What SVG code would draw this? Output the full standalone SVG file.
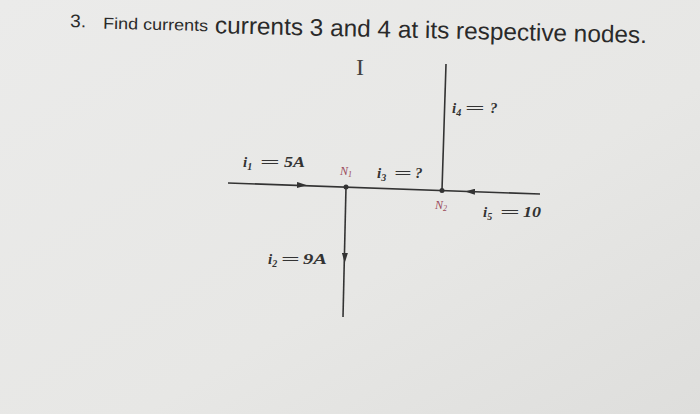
<svg xmlns="http://www.w3.org/2000/svg" width="700" height="414" viewBox="0 0 700 414">
<defs>
<linearGradient id="bg" x1="0" y1="0" x2="1" y2="1">
<stop offset="0" stop-color="#ebebea"/>
<stop offset="0.6" stop-color="#e7e7e5"/>
<stop offset="1" stop-color="#dededc"/>
</linearGradient>
<marker id="arr" viewBox="0 0 10 6" refX="5" refY="3" markerWidth="10" markerHeight="6" markerUnits="userSpaceOnUse" orient="auto">
<path d="M0,0 L10,3 L0,6 Z" fill="#333"/>
</marker>
</defs>
<style>
.title{font-family:"Liberation Sans",Arial,sans-serif;fill:#2a2a2a}
.lbl{font-family:"Liberation Serif","Times New Roman",serif;font-style:italic;font-weight:bold;font-size:15px;fill:#333}
.eq{font-family:"Liberation Serif","Times New Roman",serif;font-weight:bold;font-size:15px;fill:#333}
.sub{font-size:10px}
.node{font-family:"Liberation Serif","Times New Roman",serif;font-style:italic;font-size:12px;fill:#9a4a5a}
.wire{stroke:#333;stroke-width:1.6;fill:none}
</style>
<rect width="700" height="414" fill="url(#bg)"/>
<g transform="rotate(1.3 70 26)">
<text class="title" x="70" y="27" font-size="18" textLength="16" lengthAdjust="spacingAndGlyphs">3.</text>
<text class="title" x="103" y="28" font-size="16" textLength="105" lengthAdjust="spacingAndGlyphs">Find currents</text>
<text class="title" x="215" y="30" font-size="24" textLength="432" lengthAdjust="spacingAndGlyphs">currents 3 and 4 at its respective nodes.</text>
</g>
<text x="360" y="75" font-family="Liberation Serif,serif" font-size="24" fill="#444" text-anchor="middle">I</text>
<g id="connectors">
<path class="wire" d="M228,183 L540,194"/>
<path class="wire" d="M346,187 L343,317"/>
<path class="wire" d="M446,64 L442,190"/>
<path d="M292,184.8 L302,185.1" stroke="none" marker-end="url(#arr)"/>
<path d="M345,248 L344.8,258" stroke="none" marker-end="url(#arr)"/>
<path d="M480,192 L470,191.6" stroke="none" marker-end="url(#arr)"/>
</g>
<g id="N1">
<circle cx="346" cy="187" r="2.5" fill="#333"/>
<text class="node" x="340" y="175">N<tspan font-size="8" dy="2">1</tspan></text>
</g>
<g id="N2">
<circle cx="442" cy="190.5" r="2.5" fill="#333"/>
<text class="node" x="435" y="209">N<tspan font-size="8" dy="2">2</tspan></text>
</g>
<g id="labels">
<g id="lbl-i1">
<text class="lbl" x="243" y="167">i<tspan class="sub" dy="3">1</tspan></text>
<text class="eq" x="260" y="167" textLength="20" lengthAdjust="spacingAndGlyphs">=</text>
<text class="lbl" x="284" y="167" textLength="21" lengthAdjust="spacingAndGlyphs">5A</text>
</g>
<g id="lbl-i3">
<text class="lbl" x="377" y="178">i<tspan class="sub" dy="3">3</tspan></text>
<text class="eq" x="394" y="178" textLength="18" lengthAdjust="spacingAndGlyphs">=</text>
<text class="lbl" x="415" y="178">?</text>
</g>
<g id="lbl-i4">
<text class="lbl" x="452" y="113">i<tspan class="sub" dy="3">4</tspan></text>
<text class="eq" x="465" y="113" textLength="20" lengthAdjust="spacingAndGlyphs">=</text>
<text class="lbl" x="490" y="113">?</text>
</g>
<g id="lbl-i5">
<text class="lbl" x="483" y="217">i<tspan class="sub" dy="3">5</tspan></text>
<text class="eq" x="500" y="217" textLength="20" lengthAdjust="spacingAndGlyphs">=</text>
<text class="lbl" x="523" y="217" textLength="18" lengthAdjust="spacingAndGlyphs">10</text>
</g>
<g id="lbl-i2">
<text class="lbl" x="268" y="264">i<tspan class="sub" dy="3">2</tspan></text>
<text class="eq" x="281" y="264" textLength="19" lengthAdjust="spacingAndGlyphs">=</text>
<text class="lbl" x="303" y="264" textLength="24" lengthAdjust="spacingAndGlyphs">9A</text>
</g>
</g>
</svg>
